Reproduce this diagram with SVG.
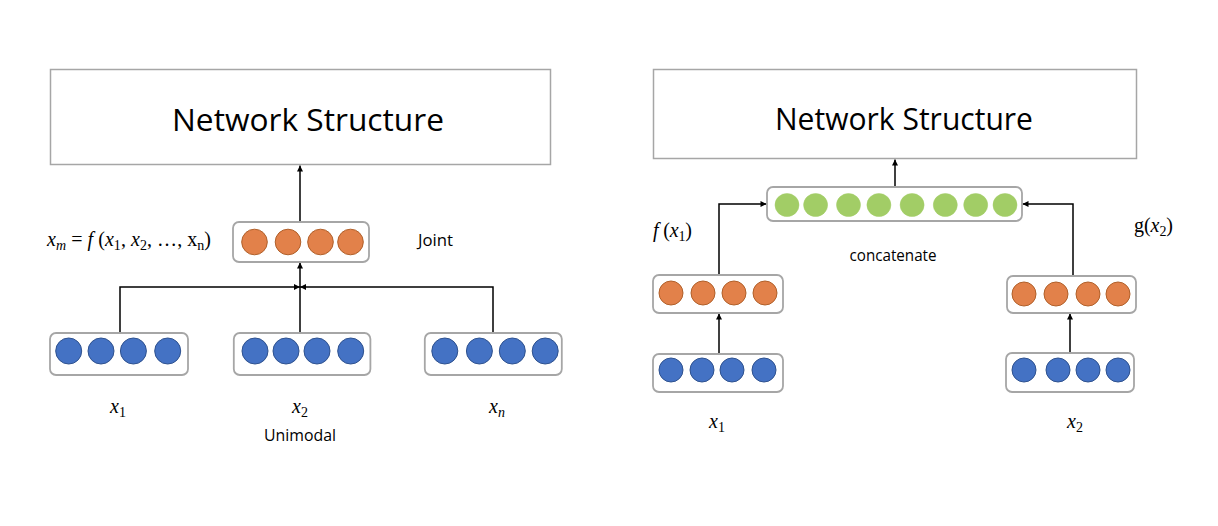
<svg xmlns="http://www.w3.org/2000/svg" width="1218" height="526" viewBox="0 0 1218 526">
<style>
.ns{fill:#fff;stroke:#A6A6A6;stroke-width:1.5}
.vec{fill:#fff;stroke:#A6A6A6;stroke-width:1.8}
.blue{fill:#4472C4;stroke:#2F528F;stroke-width:1}
.orange{fill:#E2814A;stroke:#B0602A;stroke-width:1}
.green{fill:#A2CD66;stroke:#A2CD66;stroke-width:0.5}
.big{font-family:"Open Sans","Noto Sans",sans-serif;font-size:31px;fill:#000}
.lbl{font-family:"Open Sans","Noto Sans",sans-serif;font-size:16px;fill:#000}
.math{font-family:"Liberation Serif","DejaVu Serif",serif;font-size:20px;fill:#000}
.it{font-style:italic}
.conn{fill:none;stroke:#000;stroke-width:1.5}
</style>
<defs>
<marker id="ah" viewBox="0 0 10 10" refX="10" refY="5" markerWidth="7" markerHeight="6" markerUnits="userSpaceOnUse" orient="auto">
<path d="M0,0 L10,5 L0,10 z" fill="#000"/>
</marker>
</defs>
<rect width="1218" height="526" fill="#fff"/>

<g id="connectors">
<path class="conn" d="M300,222 V165.5" marker-end="url(#ah)"/>
<path class="conn" d="M120,333 V287 H300" marker-end="url(#ah)"/>
<path class="conn" d="M493,333 V287 H300" marker-end="url(#ah)"/>
<path class="conn" d="M300,333 V262.5" marker-end="url(#ah)"/>
<path class="conn" d="M895,187 V159.5" marker-end="url(#ah)"/>
<path class="conn" d="M719,275 V204 H766.5" marker-end="url(#ah)"/>
<path class="conn" d="M1073,276 V204 H1022.5" marker-end="url(#ah)"/>
<path class="conn" d="M719,354 V313.5" marker-end="url(#ah)"/>
<path class="conn" d="M1070,353 V313.5" marker-end="url(#ah)"/>
</g>

<g id="ns-left">
<rect class="ns" x="50.5" y="69.5" width="500" height="95"/>
<text class="big" x="308" y="131" text-anchor="middle" textLength="272" lengthAdjust="spacingAndGlyphs">Network Structure</text>
</g>

<g id="joint">
<rect class="vec" x="233" y="222" width="136" height="40" rx="6"/>
<circle class="orange" cx="254.5" cy="242" r="12.8"/>
<circle class="orange" cx="288" cy="242" r="12.8"/>
<circle class="orange" cx="320.5" cy="242" r="12.8"/>
<circle class="orange" cx="350.5" cy="242" r="12.8"/>
</g>

<g id="uni-1">
<rect class="vec" x="50" y="333" width="138" height="42" rx="6"/>
<circle class="blue" cx="68.7" cy="351" r="13"/>
<circle class="blue" cx="101" cy="351" r="13"/>
<circle class="blue" cx="133.4" cy="351" r="13"/>
<circle class="blue" cx="167.7" cy="351" r="13"/>
</g>
<g id="uni-2">
<rect class="vec" x="233.8" y="333" width="136.6" height="42" rx="6"/>
<circle class="blue" cx="255" cy="351" r="13"/>
<circle class="blue" cx="286" cy="351" r="13"/>
<circle class="blue" cx="317" cy="351" r="13"/>
<circle class="blue" cx="350.7" cy="351" r="13"/>
</g>
<g id="uni-n">
<rect class="vec" x="424.8" y="333" width="137" height="42" rx="6"/>
<circle class="blue" cx="444.8" cy="351" r="13"/>
<circle class="blue" cx="479.4" cy="351" r="13"/>
<circle class="blue" cx="512.3" cy="351" r="13"/>
<circle class="blue" cx="545.2" cy="351" r="13"/>
</g>

<g id="labels-left">
<text class="math" x="47" y="246" textLength="164" lengthAdjust="spacing"><tspan class="it">x</tspan><tspan class="it" font-size="14" dy="4">m</tspan><tspan dy="-4"> = </tspan><tspan class="it">f</tspan><tspan> (</tspan><tspan class="it">x</tspan><tspan font-size="14" dy="4">1</tspan><tspan dy="-4">, </tspan><tspan class="it">x</tspan><tspan font-size="14" dy="4">2</tspan><tspan dy="-4">, …, x</tspan><tspan font-size="14" dy="4">n</tspan><tspan dy="-4">)</tspan></text>
<text class="lbl" x="418" y="246" textLength="35" lengthAdjust="spacingAndGlyphs">Joint</text>
<text class="math" x="118" y="413" text-anchor="middle"><tspan class="it">x</tspan><tspan font-size="14" dy="4">1</tspan></text>
<text class="math" x="300" y="413" text-anchor="middle"><tspan class="it">x</tspan><tspan font-size="14" dy="4">2</tspan></text>
<text class="math" x="497" y="413" text-anchor="middle"><tspan class="it">x</tspan><tspan class="it" font-size="14" dy="4">n</tspan></text>
<text class="lbl" x="300" y="441" text-anchor="middle" textLength="72" lengthAdjust="spacingAndGlyphs">Unimodal</text>
</g>

<g id="ns-right">
<rect class="ns" x="653.5" y="69.5" width="483" height="89"/>
<text class="big" x="904" y="130" text-anchor="middle" textLength="258" lengthAdjust="spacingAndGlyphs">Network Structure</text>
</g>

<g id="concat">
<rect class="vec" x="767" y="187" width="255" height="34" rx="6"/>
<ellipse class="green" cx="787" cy="205" rx="12" ry="11.5"/>
<ellipse class="green" cx="815.6" cy="205" rx="12" ry="11.5"/>
<ellipse class="green" cx="848.5" cy="205" rx="12" ry="11.5"/>
<ellipse class="green" cx="878.9" cy="205" rx="12" ry="11.5"/>
<ellipse class="green" cx="912.1" cy="205" rx="12" ry="11.5"/>
<ellipse class="green" cx="945.3" cy="205" rx="12" ry="11.5"/>
<ellipse class="green" cx="975.7" cy="205" rx="12" ry="11.5"/>
<ellipse class="green" cx="1005" cy="205" rx="12" ry="11.5"/>
</g>

<g id="f-x1">
<rect class="vec" x="653" y="275" width="130" height="38" rx="6"/>
<circle class="orange" cx="671" cy="293" r="12"/>
<circle class="orange" cx="703" cy="293" r="12"/>
<circle class="orange" cx="734" cy="293" r="12"/>
<circle class="orange" cx="765" cy="293" r="12"/>
</g>
<g id="g-x2">
<rect class="vec" x="1007" y="276" width="129" height="37" rx="6"/>
<circle class="orange" cx="1024" cy="294" r="12"/>
<circle class="orange" cx="1056" cy="294" r="12"/>
<circle class="orange" cx="1088" cy="294" r="12"/>
<circle class="orange" cx="1118" cy="294" r="12"/>
</g>
<g id="in-x1">
<rect class="vec" x="653" y="354" width="130" height="38" rx="6"/>
<circle class="blue" cx="671" cy="370" r="12"/>
<circle class="blue" cx="702" cy="370" r="12"/>
<circle class="blue" cx="732" cy="370" r="12"/>
<circle class="blue" cx="764" cy="370" r="12"/>
</g>
<g id="in-x2">
<rect class="vec" x="1006" y="353" width="128" height="39" rx="6"/>
<circle class="blue" cx="1024" cy="370" r="12"/>
<circle class="blue" cx="1058" cy="370" r="12"/>
<circle class="blue" cx="1088" cy="370" r="12"/>
<circle class="blue" cx="1118" cy="370" r="12"/>
</g>

<g id="labels-right">
<text class="math" x="653" y="237" textLength="39" lengthAdjust="spacing"><tspan class="it">f</tspan><tspan> (</tspan><tspan class="it">x</tspan><tspan font-size="14" dy="4">1</tspan><tspan dy="-4">)</tspan></text>
<text class="math" x="1134" y="232" textLength="39" lengthAdjust="spacing">g(<tspan class="it">x</tspan><tspan font-size="14" dy="4">2</tspan><tspan dy="-4">)</tspan></text>
<text class="lbl" x="893" y="261" text-anchor="middle" textLength="87" lengthAdjust="spacingAndGlyphs">concatenate</text>
<text class="math" x="717" y="428" text-anchor="middle"><tspan class="it">x</tspan><tspan font-size="14" dy="4">1</tspan></text>
<text class="math" x="1075" y="428" text-anchor="middle"><tspan class="it">x</tspan><tspan font-size="14" dy="4">2</tspan></text>
</g>
</svg>
